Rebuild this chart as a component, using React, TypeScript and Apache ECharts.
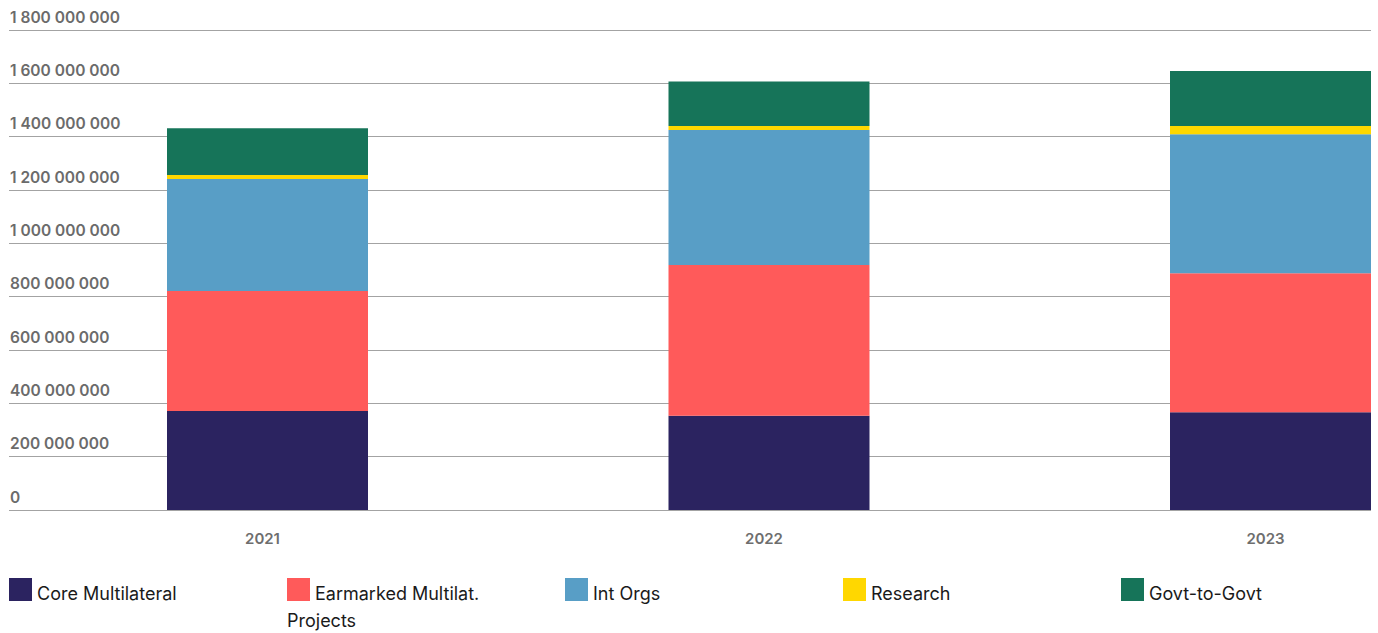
import React, { useEffect, useRef } from "react";
import * as echarts from "echarts";

// Stacked annual contributions by channel (values in units)
const years = ["2021", "2022", "2023"];
const seriesNames = [
  "Core Multilateral",
  "Earmarked Multilat. Projects",
  "Int Orgs",
  "Research",
  "Govt-to-Govt",
];
const seriesColors = ["#2b2360", "#ff5a5a", "#589ec6", "#ffd700", "#167459"];

const coreMultilateral = [371e6, 353e6, 367e6];
const earmarkedMultilat = [450e6, 566e6, 521e6];
const intOrgs = [420e6, 506e6, 521e6];
const research = [15e6, 15e6, 31e6];
const govtToGovt = [176e6, 167e6, 206e6];

const yMax = 1800e6;
const yStep = 200e6;

const FONT = "Inter, 'Noto Sans', sans-serif";

// canvas is wider than the visible frame; the last category slot runs past the right edge
const VIEW_W = 1378;
const VIEW_H = 633;
const CANVAS_W = 1530;

const formatSpaced = (v: number) =>
  Math.round(v).toString().replace(/\B(?=(\d{3})+(?!\d))/g, " ");

// word-wrap a legend label to a maximum pixel width
function wrapLabel(text: string, font: string, maxWidth: number): string[] {
  const canvas = document.createElement("canvas");
  const ctx = canvas.getContext("2d");
  if (!ctx) return [text];
  ctx.font = font;
  const words = text.split(" ");
  const lines: string[] = [];
  let cur = "";
  for (const w of words) {
    const next = cur ? cur + " " + w : w;
    if (cur && ctx.measureText(next).width > maxWidth) {
      lines.push(cur);
      cur = w;
    } else {
      cur = next;
    }
  }
  if (cur) lines.push(cur);
  return lines;
}

export default function App() {
  const ref = useRef<HTMLDivElement>(null);

  useEffect(() => {
    if (!ref.current) return;
    const chart = echarts.init(ref.current, undefined, { renderer: "svg" });

    const seriesData = [coreMultilateral, earmarkedMultilat, intOrgs, research, govtToGovt];

    // legend drawn as a flowing row of swatches and labels
    const legendFont = `18px ${FONT}`;
    const legendItems: any[] = [];
    seriesNames.forEach((name, i) => {
      const x0 = 9 + 278 * i;
      legendItems.push({
        type: "rect",
        shape: { x: x0, y: 578, width: 23, height: 23 },
        style: { fill: seriesColors[i] },
      });
      const lines = wrapLabel(name, legendFont, 200);
      lines.forEach((line, j) => {
        legendItems.push({
          type: "text",
          x: j === 0 ? x0 + 28 : x0,
          y: 602 + j * 27,
          style: {
            text: line,
            font: legendFont,
            fill: "#1a1a1a",
            verticalAlign: "bottom",
            align: "left",
          },
        });
      });
    });

    chart.setOption({
      animation: false,
      backgroundColor: "#ffffff",
      grid: [
        { left: 9, right: CANVAS_W - 1371, top: 30, bottom: 123 },
        { left: 16.75, width: 1504.5, top: 30, bottom: 123 },
      ],
      xAxis: [
        { gridIndex: 0, type: "category", data: years, show: false },
        {
          gridIndex: 1,
          type: "category",
          data: years,
          axisLine: { show: false },
          axisTick: { show: false },
          axisLabel: {
            color: "#6e6e6e",
            fontFamily: FONT,
            fontSize: 15,
            fontWeight: 600,
            margin: 21,
            padding: [0, 10, 0, 0],
          },
        },
      ],
      yAxis: [
        {
          gridIndex: 0,
          type: "value",
          min: 0,
          max: yMax,
          interval: yStep,
          axisLine: { show: false },
          axisTick: { show: false },
          splitLine: { lineStyle: { color: "#a3a3a3", width: 1 } },
          axisLabel: {
            inside: true,
            margin: 1,
            align: "left",
            verticalAlign: "bottom",
            padding: [0, 0, 5, 0],
            color: "#6b6b6b",
            fontFamily: FONT,
            fontSize: 15.5,
            fontWeight: 600,
            formatter: (v: number) => formatSpaced(v),
          },
        },
        {
          gridIndex: 1,
          type: "value",
          min: 0,
          max: yMax,
          interval: yStep,
          show: false,
          splitLine: { show: false },
        },
      ],
      series: seriesNames.map((name, i) => ({
        name,
        type: "bar",
        stack: "total",
        xAxisIndex: 1,
        yAxisIndex: 1,
        barWidth: 201,
        itemStyle: { color: seriesColors[i] },
        data: seriesData[i],
      })),
      graphic: legendItems,
    });

    return () => chart.dispose();
  }, []);

  return (
    <div
      style={{
        position: "absolute",
        left: 0,
        top: 0,
        width: VIEW_W,
        height: VIEW_H,
        overflow: "hidden",
        background: "#ffffff",
      }}
    >
      <div ref={ref} style={{ width: CANVAS_W, height: VIEW_H }} />
    </div>
  );
}
